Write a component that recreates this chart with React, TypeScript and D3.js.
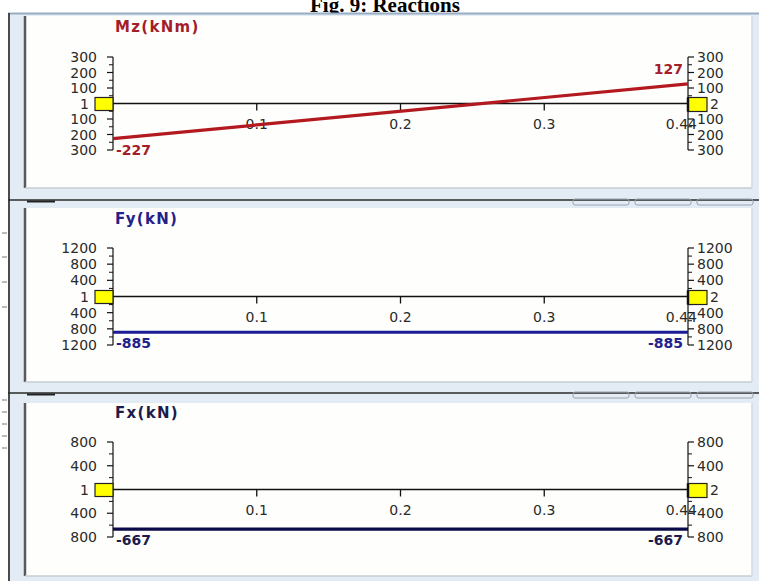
import React from "react";
import * as d3 from "d3";

// values
const titles = ["Mz(kNm)", "Fy(kN)", "Fx(kN)"];
const mzTicks = [300, 200, 100, 0, -100, -200, -300];
const fyTicks = [1200, 800, 400, 0, -400, -800, -1200];
const fxTicks = [800, 400, 0, -400, -800];
const mzValues = [-227, 127];
const fyValues = [-885, -885];
const fxValues = [-667, -667];
const xTicks = [0.1, 0.2, 0.3];
const beamLength = 0.4;
const beamLabel = "0.44";
const nodeLabels = ["1", "2"];

const W = 759;
const H = 581;
const X0 = 113;
const X1 = 688;
const tickFont = "'DejaVu Sans', Verdana, sans-serif";

const x = d3.scaleLinear().domain([0, beamLength]).range([X0, X1]);

type PanelProps = {
  title: string;
  ticks: number[];
  values: number[];
  top: number;
  bottom: number;
  titleY: number;
  titleColor: string;
  lineColor: string;
};

function Panel({ title, ticks, values, top, bottom, titleY, titleColor, lineColor }: PanelProps) {
  const y = d3.scaleLinear().domain([ticks[ticks.length - 1], ticks[0]]).range([bottom, top]);
  const y0 = y(0);
  const minors = d3.pairs(ticks).map(([a, b]) => (a + b) / 2);
  const pts: [number, number][] = values.map((v, i) => [i === 0 ? 0 : beamLength, v]);
  const line = d3.line<[number, number]>().x(d => x(d[0])).y(d => y(d[1]));

  const valueLabelY = (v: number) => (v < 0 ? y(v) + 16 : y(v) - 10);

  return (
    <g>
      <text x={115} y={titleY} fill={titleColor} fontFamily={tickFont} fontWeight="bold" fontSize={15} letterSpacing={1.3}>
        {title}
      </text>

      {/* left axis */}
      <line x1={X0} x2={X0} y1={top} y2={bottom} stroke="#111" strokeWidth={1.2} />
      {ticks.map(t => (
        <line key={"l" + t} x1={X0 - 6} x2={X0} y1={y(t)} y2={y(t)} stroke="#111" strokeWidth={1.2} />
      ))}
      {minors.map(t => (
        <line key={"lm" + t} x1={X0 - 4} x2={X0} y1={y(t)} y2={y(t)} stroke="#111" strokeWidth={1} />
      ))}
      {ticks.map(t => (
        <text key={"lt" + t} x={t === 0 ? 89 : 97} y={y(t) + 5} textAnchor="end" fontFamily={tickFont} fontSize={14} fill="#2a2a2a">
          {t === 0 ? nodeLabels[0] : Math.abs(t)}
        </text>
      ))}

      {/* right axis */}
      <line x1={X1} x2={X1} y1={top} y2={bottom} stroke="#111" strokeWidth={1.2} />
      {ticks.map(t => (
        <line key={"r" + t} x1={X1} x2={X1 + 6} y1={y(t)} y2={y(t)} stroke="#111" strokeWidth={1.2} />
      ))}
      {minors.map(t => (
        <line key={"rm" + t} x1={X1} x2={X1 + 4} y1={y(t)} y2={y(t)} stroke="#111" strokeWidth={1} />
      ))}
      {ticks.map(t => (
        <text key={"rt" + t} x={t === 0 ? 710 : 697} y={y(t) + 5} fontFamily={tickFont} fontSize={14} fill="#2a2a2a">
          {t === 0 ? nodeLabels[1] : Math.abs(t)}
        </text>
      ))}

      {/* beam axis */}
      <line x1={X0} x2={X1} y1={y0} y2={y0} stroke="#111" strokeWidth={1.3} />
      {xTicks.map(t => (
        <g key={"x" + t}>
          <line x1={x(t)} x2={x(t)} y1={y0} y2={y0 + 7} stroke="#111" strokeWidth={1.3} />
          <text x={x(t)} y={y0 + 25} textAnchor="middle" fontFamily={tickFont} fontSize={14} fill="#2a2a2a">
            {t}
          </text>
        </g>
      ))}
      <text x={x(beamLength) + 9} y={y0 + 25} textAnchor="end" fontFamily={tickFont} fontSize={14} fill="#2a2a2a">
        {beamLabel}
      </text>

      {/* node boxes */}
      <rect x={95} y={y0 - 6} width={18} height={13} fill="#ffff00" stroke="#222" strokeWidth={1.2} />
      <rect x={X1} y={y0 - 6} width={19} height={14} fill="#ffff00" stroke="#222" strokeWidth={1.2} />
      <line x1={X1} x2={X1} y1={y0 - 6} y2={y0 + 8} stroke="#111" strokeWidth={2.5} />

      {/* diagram */}
      <path d={line(pts) || ""} fill="none" stroke={lineColor} strokeWidth={3.2} />
      <text x={116} y={valueLabelY(values[0])} fontFamily={tickFont} fontWeight="bold" fontSize={14} fill={titleColor}>
        {values[0]}
      </text>
      <text x={683} y={valueLabelY(values[1])} textAnchor="end" fontFamily={tickFont} fontWeight="bold" fontSize={14} fill={titleColor}>
        {values[1]}
      </text>
    </g>
  );
}

function Frame({ top, bottom, sepY }: { top: number; bottom: number; sepY: number | null }) {
  return (
    <g>
      <rect x={25} y={top} width={727} height={bottom - top} fill="#fefefc" />
      <line x1={25} x2={25} y1={top} y2={bottom} stroke="#5a5a5a" strokeWidth={2.5} />
      <line x1={25} x2={752} y1={bottom} y2={bottom} stroke="#c6ccd4" strokeWidth={1.5} />
      <line x1={752} x2={752} y1={top} y2={bottom} stroke="#d4dae2" strokeWidth={1.5} />
      {sepY !== null && (
        <g>
          <line x1={8} x2={W} y1={sepY} y2={sepY} stroke="#2a2a2a" strokeWidth={1.5} />
          <line x1={27} x2={55} y1={sepY + 1.5} y2={sepY + 1.5} stroke="#222" strokeWidth={2} />
          {[573, 635, 697].map(tx => (
            <rect key={tx} x={tx} y={sepY - 1} width={56} height={6} rx={2} fill="none" stroke="#9aa3ad" strokeWidth={1} />
          ))}
        </g>
      )}
    </g>
  );
}

export default function App() {
  return (
    <svg width={W} height={H} style={{ position: "absolute", left: 0, top: 0, display: "block" }}>
      <rect width={W} height={H} fill="#fff" />
      <text x={385} y={12} textAnchor="middle" fontFamily="'Liberation Serif', 'Times New Roman', serif" fontWeight="bold" fontSize={21}>
        Fig. 9: Reactions
      </text>

      {/* window */}
      <rect x={8} y={13} width={W - 8} height={H - 13} fill="#e3ebf4" />
      <line x1={8} x2={W} y1={13.5} y2={13.5} stroke="#98adc4" strokeWidth={2} />
      <line x1={9} x2={9} y1={13} y2={H} stroke="#3a3a3a" strokeWidth={1.8} />
      {[233, 257, 282, 307, 400, 412, 424, 436, 448].map(ty => (
        <line key={ty} x1={2} x2={7} y1={ty} y2={ty} stroke="#777" strokeWidth={1} />
      ))}

      <Frame top={16} bottom={188} sepY={200} />
      <Frame top={208} bottom={382} sepY={393} />
      <Frame top={403} bottom={576} sepY={null} />

      <Panel title={titles[0]} ticks={mzTicks} values={mzValues} top={57} bottom={150} titleY={32}
        titleColor="#a31d2b" lineColor="#b3191f" />
      <Panel title={titles[1]} ticks={fyTicks} values={fyValues} top={248} bottom={345} titleY={224}
        titleColor="#22228a" lineColor="#1c1c96" />
      <Panel title={titles[2]} ticks={fxTicks} values={fxValues} top={442} bottom={537} titleY={418}
        titleColor="#1c1c4c" lineColor="#0b0b4a" />
    </svg>
  );
}
